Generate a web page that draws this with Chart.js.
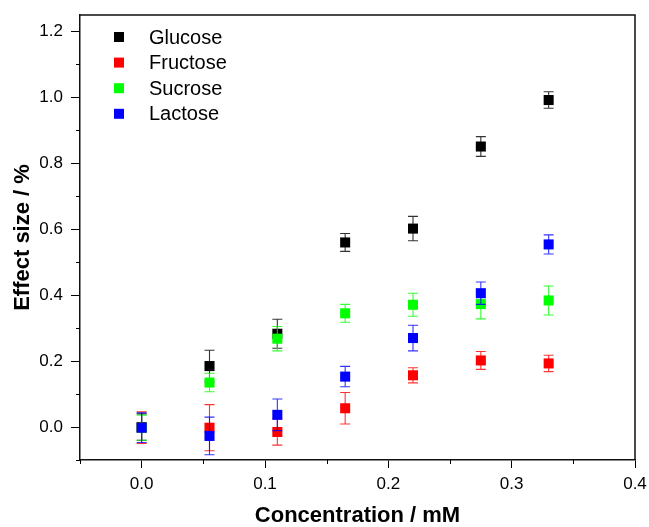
<!DOCTYPE html>
<html>
<head>
<meta charset="utf-8">
<script src="https://cdn.jsdelivr.net/npm/chart.js@4.4.0/dist/chart.umd.min.js"></script>
<style>
  html, body { margin: 0; padding: 0; background: #fff; }
  #wrap { width: 649px; height: 527px; }
</style>
</head>
<body>
<div id="wrap"><canvas id="sugarChart" width="649" height="527"></canvas></div>
<script>
// data
const concentrations = [0, 0.055, 0.11, 0.165, 0.22, 0.275, 0.33];

const glucose    = [0.000, 0.185, 0.283, 0.560, 0.602, 0.851, 0.992];
const glucoseErr = [0.040, 0.048, 0.044, 0.027, 0.037, 0.030, 0.025];

const fructose    = [-0.002, -0.002, -0.015, 0.057, 0.157, 0.202, 0.193];
const fructoseErr = [0.048, 0.070, 0.040, 0.048, 0.023, 0.027, 0.025];

const sucrose    = [-0.002, 0.135, 0.268, 0.345, 0.371, 0.373, 0.384];
const sucroseErr = [0.038, 0.028, 0.037, 0.027, 0.035, 0.045, 0.044];

const lactose    = [-0.002, -0.027, 0.037, 0.153, 0.270, 0.406, 0.554];
const lactoseErr = [0.045, 0.057, 0.048, 0.031, 0.039, 0.034, 0.029];

const xTicks = [0, 0.1, 0.2, 0.3, 0.4];
const xMinorTicks = [-0.05, 0.05, 0.15, 0.25, 0.35];
const yTicks = [0, 0.2, 0.4, 0.6, 0.8, 1.0, 1.2];
const yMinorTicks = [-0.1, 0.1, 0.3, 0.5, 0.7, 0.9, 1.1];

const FONT = "'Liberation Sans', Arial, sans-serif";

function makeSet(label, values, errors, color, order) {
  return {
    label: label,
    data: concentrations.map((c, i) => ({ x: c, y: values[i] })),
    errors: errors,
    backgroundColor: color,
    borderColor: color,
    pointStyle: 'rect',
    pointRadius: 7.1,
    pointHoverRadius: 7.1,
    pointBorderWidth: 0,
    showLine: false,
    order: order
  };
}

// error bars, minor ticks, frame and legend
const extras = {
  id: 'extras',
  beforeDatasetDraw(chart, args) {
    const ds = chart.data.datasets[args.index];
    const xs = chart.scales.x, ys = chart.scales.y;
    const ctx = chart.ctx;
    ctx.save();
    ctx.strokeStyle = ds.borderColor;
    ctx.globalAlpha = 0.8;
    ctx.lineWidth = 1.1;
    ds.data.forEach((p, i) => {
      const px = xs.getPixelForValue(p.x);
      const top = ys.getPixelForValue(p.y + ds.errors[i]);
      const bot = ys.getPixelForValue(p.y - ds.errors[i]);
      ctx.beginPath();
      ctx.moveTo(px, top); ctx.lineTo(px, bot);
      ctx.moveTo(px - 5, top); ctx.lineTo(px + 5, top);
      ctx.moveTo(px - 5, bot); ctx.lineTo(px + 5, bot);
      ctx.stroke();
    });
    ctx.restore();
  },
  afterDraw(chart) {
    const ctx = chart.ctx;
    const a = chart.chartArea;
    const xs = chart.scales.x, ys = chart.scales.y;
    ctx.save();
    ctx.strokeStyle = '#111';
    ctx.lineWidth = 1.5;
    ctx.beginPath();
    ctx.moveTo(a.left, a.top); ctx.lineTo(a.right, a.top); ctx.lineTo(a.right, a.bottom);
    ctx.stroke();

    ctx.lineWidth = 1;
    ctx.strokeStyle = '#000';
    ctx.beginPath();
    xMinorTicks.forEach(v => {
      const px = Math.round(xs.getPixelForValue(v)) + 0.5;
      ctx.moveTo(px, a.bottom); ctx.lineTo(px, a.bottom + 4);
    });
    yMinorTicks.forEach(v => {
      const py = Math.round(ys.getPixelForValue(v)) + 0.5;
      ctx.moveTo(a.left, py); ctx.lineTo(a.left - 4, py);
    });
    ctx.stroke();

    // legend
    ctx.font = '20px ' + FONT;
    ctx.textBaseline = 'middle';
    ctx.fillStyle = '#000';
    chart.data.datasets.forEach((ds, i) => {
      const cy = 37 + i * 25.6;
      ctx.fillStyle = ds.backgroundColor;
      ctx.fillRect(114, cy - 5, 10, 10);
      ctx.fillStyle = '#000';
      ctx.fillText(ds.label, 149, cy + 1);
    });
    ctx.restore();
  }
};

const ctx = document.getElementById('sugarChart').getContext('2d');

const chart = new Chart(ctx, {
  type: 'scatter',
  data: {
    datasets: [
      makeSet('Glucose', glucose, glucoseErr, '#000000', 3),
      makeSet('Fructose', fructose, fructoseErr, '#ff0000', 2),
      makeSet('Sucrose', sucrose, sucroseErr, '#00ff00', 1),
      makeSet('Lactose', lactose, lactoseErr, '#0000ff', 0)
    ]
  },
  options: {
    responsive: false,
    animation: false,
    devicePixelRatio: 1,
    layout: { padding: { top: 15, right: 14, left: 0, bottom: 0 } },
    plugins: {
      legend: { display: false },
      tooltip: { enabled: false }
    },
    scales: {
      x: {
        type: 'linear',
        min: -0.05,
        max: 0.4,
        afterBuildTicks: s => { s.ticks = xTicks.map(v => ({ value: v })); },
        afterFit: s => { s.height = 67; s.paddingLeft = 0; s.paddingRight = 0; },
        ticks: {
          font: { family: FONT, size: 17 },
          color: '#000',
          padding: 6,
          maxRotation: 0,
          callback: v => v.toFixed(1)
        },
        grid: { drawOnChartArea: false, tickLength: 8, tickColor: '#000', tickWidth: 1 },
        border: { display: true, color: '#111', width: 1.5 },
        title: {
          display: true,
          text: 'Concentration / mM',
          font: { family: FONT, size: 22, weight: 'bold', lineHeight: 1 },
          color: '#000',
          padding: { top: 0, bottom: 0 }
        }
      },
      y: {
        type: 'linear',
        min: -0.1,
        max: 1.25,
        afterBuildTicks: s => { s.ticks = yTicks.map(v => ({ value: v })); },
        afterFit: s => { s.width = 80; s.paddingTop = 0; s.paddingBottom = 0; },
        ticks: {
          font: { family: FONT, size: 17 },
          color: '#000',
          padding: 8,
          callback: v => v.toFixed(1)
        },
        grid: { drawOnChartArea: false, tickLength: 9, tickColor: '#000', tickWidth: 1 },
        border: { display: true, color: '#111', width: 1.5 },
        title: {
          display: true,
          text: 'Effect size / %',
          font: { family: FONT, size: 22, weight: 'bold', lineHeight: 1 },
          color: '#000',
          padding: { top: 12, bottom: 0 }
        }
      }
    }
  },
  plugins: [extras]
});
</script>
</body>
</html>
